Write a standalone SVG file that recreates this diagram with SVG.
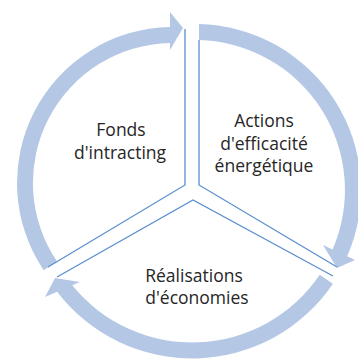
<svg xmlns="http://www.w3.org/2000/svg" width="358" height="359" viewBox="0 0 358 359">
  <style>
    .wedge { fill: none; stroke: #5B8FD0; stroke-width: 1.3; stroke-linejoin: miter; }
    .arrow { fill: #B4C8E6; stroke: none; }
    .label { font-family: "Open Sans", "Liberation Sans", sans-serif; font-size: 17.5px; fill: #262626; text-anchor: middle; }
  </style>
  <rect width="358" height="359" fill="#FFFFFF"/>
  <g id="connectors">
    <path class="arrow" d="M43.7,270.2 A156,156 0 0 1 170,27 L170,12 L183,28 L170,50 L170,43 A140,140 0 0 0 56.9,261.3 Z"/>
    <path class="arrow" d="M199,24 A166,166 0 0 1 347.2,256.3 L355,260 L337,268 L323,245 L332.6,249.5 A150,150 0 0 0 199,40 Z"/>
    <path class="arrow" d="M332.9,283.7 A170,170 0 0 1 57.1,291.8 L45,297 L55,278 L80,282 L72.3,285.3 A154,154 0 0 0 319.7,274.7 Z"/>
  </g>
  <g id="node-fonds">
    <path class="wedge" d="M185,29 V185 L48,267"/>
    <text class="label" x="121" y="136">Fonds</text>
    <text class="label" x="120" y="159">d'intracting</text>
  </g>
  <g id="node-actions">
    <path class="wedge" d="M199,40 V185 L337,267"/>
    <text class="label" x="264" y="127">Actions</text>
    <text class="label" x="264" y="150">d'efficacité</text>
    <text class="label" x="264" y="172">énergétique</text>
  </g>
  <g id="node-realisations">
    <path class="wedge" d="M57,277 L193,200 L333,276"/>
    <text class="label" x="194" y="282">Réalisations</text>
    <text class="label" x="197" y="304">d'économies</text>
  </g>
</svg>
